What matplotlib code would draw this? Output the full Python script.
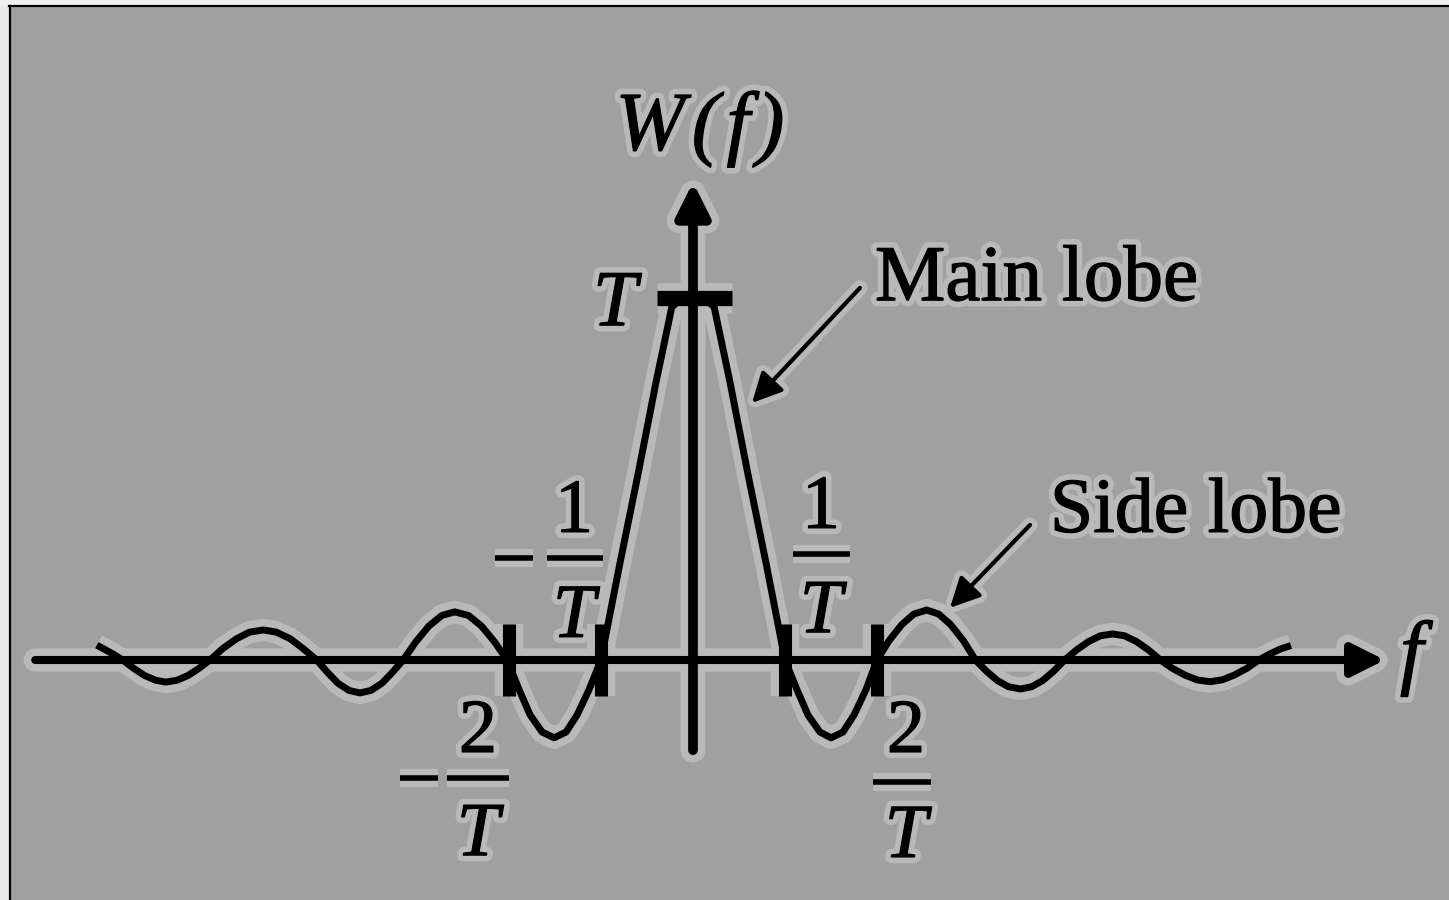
import matplotlib.pyplot as plt
from matplotlib import patheffects as pe
from matplotlib.lines import Line2D
from matplotlib.patches import Rectangle

# window spectrum W(f): frequency in units of 1/T, amplitude in units of T
freq = [
    -6.48, -6.40, -6.30,
    -6.20, -6.08, -5.96, -5.84, -5.73, -5.61, -5.49, -5.37,
    -5.25, -5.11, -4.96, -4.82, -4.67, -4.53, -4.38, -4.24,
    -4.09, -3.97, -3.86, -3.74, -3.62, -3.50, -3.38, -3.27,
    -3.15, -3.01, -2.87, -2.73, -2.59, -2.44, -2.30, -2.16,
    -2.02, -1.89, -1.77, -1.64, -1.51, -1.38, -1.26, -1.13,
    -1.00, -0.80, -0.60, -0.40, -0.23, -0.12, 0.00, 0.12, 0.23, 0.40, 0.60, 0.80,
    1.00, 1.13, 1.25, 1.38, 1.50, 1.63, 1.75, 1.88,
    2.00, 2.13, 2.27, 2.40, 2.54, 2.67, 2.80, 2.94,
    3.07, 3.19, 3.31, 3.43, 3.56, 3.68, 3.80, 3.92,
    4.04, 4.17, 4.30, 4.43, 4.56, 4.69, 4.82, 4.95,
    5.08, 5.21, 5.35, 5.48, 5.62, 5.75, 5.88, 6.02,
    6.15, 6.25, 6.38, 6.50,
]
amp = [
    0.041, 0.030, 0.016,
    0.0, -0.023, -0.043, -0.056, -0.061, -0.056, -0.043, -0.023,
    0.0, 0.032, 0.059, 0.077, 0.083, 0.077, 0.059, 0.032,
    0.0, -0.035, -0.064, -0.084, -0.091, -0.084, -0.064, -0.035,
    0.0, 0.051, 0.094, 0.123, 0.133, 0.123, 0.094, 0.051,
    0.0, -0.082, -0.152, -0.199, -0.215, -0.199, -0.152, -0.082,
    0.0, 0.26, 0.51, 0.77, 0.975, 1.0, 1.0, 1.0, 0.975, 0.77, 0.51, 0.26,
    0.0, -0.082, -0.152, -0.199, -0.215, -0.199, -0.152, -0.082,
    0.0, 0.053, 0.098, 0.127, 0.138, 0.127, 0.098, 0.053,
    0.0, -0.031, -0.057, -0.074, -0.080, -0.074, -0.057, -0.031,
    0.0, 0.028, 0.051, 0.067, 0.072, 0.067, 0.051, 0.028,
    0.0, -0.023, -0.042, -0.055, -0.060, -0.055, -0.042, -0.023,
    0.0, 0.014, 0.030, 0.040,
]

zero_ticks = [-2, -1, 1, 2]
tick_nums = ['2', '1', '1', '2']
peak = 1.0

BG = '#a0a0a0'
HALO = '#b9b9b9'
SERIF = 'Liberation Serif'


def line(ax, x, y, lw, extra=11):
    # light outline underneath, black stroke on top
    ax.plot(x, y, color=HALO, lw=lw + extra, solid_capstyle='butt', zorder=1)
    ax.plot(x, y, color='black', lw=lw, solid_capstyle='butt', zorder=3)


def arrow(ax, tip, start, lw, style, scale, extra=11, z=2):
    # same geometry twice: outlined copy underneath, plain black copy on top
    for color, effects, zz in [(HALO, [pe.Stroke(linewidth=lw + extra, foreground=HALO),
                                       pe.Normal()], 1),
                               ('black', [], z)]:
        a = ax.annotate('', xy=tip, xytext=start, zorder=zz,
                        arrowprops=dict(arrowstyle=style, lw=lw, color=color,
                                        shrinkA=0, shrinkB=0, mutation_scale=scale))
        a.arrow_patch.set_path_effects(effects)


def label(ax, x, y, s, size=55, italic=False, ha='center'):
    ax.text(x, y, s, ha=ha, va='baseline', fontsize=size, family=SERIF,
            style='italic' if italic else 'normal', color='black', zorder=5,
            path_effects=[pe.Stroke(linewidth=9, foreground=HALO),
                          pe.Stroke(linewidth=0.9, foreground='black'),
                          pe.Normal()])


fig = plt.figure(figsize=(14.49, 9), dpi=100, facecolor=BG)
ax = fig.add_axes([0, 0, 1, 1])
ax.set_xlim(-693 / 92, (1449 - 693) / 92)
ax.set_ylim(-240 / 362, 660 / 362)
ax.axis('off')

# page edge and frame
fig.add_artist(Rectangle((0, 0), 9 / 1449, 1, transform=fig.transFigure,
                         color='#e8e8e8', zorder=0))
fig.add_artist(Rectangle((0, 895 / 900), 1, 5 / 900, transform=fig.transFigure,
                         color='#f0f0f0', zorder=0))
fig.add_artist(Line2D([10 / 1449, 10 / 1449], [0, 894 / 900], transform=fig.transFigure,
                      color='black', lw=1.6))
fig.add_artist(Line2D([9 / 1449, 1], [894 / 900, 894 / 900], transform=fig.transFigure,
                      color='black', lw=1.6))

# axes with arrow heads
head = '-|>,head_length=0.5,head_width=0.25'
arrow(ax, (7.52, 0), (-7.15, 0), 5.8, head, 40)
arrow(ax, (0, 1.32), (0, -0.249), 7.0, head, 40)

# the spectrum
line(ax, freq, amp, 5.0)

# zero markers and peak marker
for f0 in zero_ticks:
    line(ax, [f0, f0], [0.1, -0.1], 9.4)
line(ax, [-0.39, 0.42], [peak, peak], 11)

# axis labels
label(ax, 0.076, 1.41, 'W\u200a(\u200af\u200a)', size=60, italic=True)
label(ax, 7.685, -0.052, 'f', size=60, italic=True, ha='left')
label(ax, -0.848, 0.925, 'T', size=57, italic=True)

# fraction labels at the zeros
fracs = [
    # numerator x, num baseline, bar y, den baseline, bar span, minus span
    (-1.293, 0.354, 0.282, 0.064, (-1.587, -0.978), (-2.152, -1.739)),
    (1.391, 0.365, 0.293, 0.077, (1.087, 1.707), None),
    (-2.337, -0.254, -0.326, -0.539, (-2.674, -2.0), (-3.185, -2.772)),
    (2.315, -0.254, -0.337, -0.544, (1.957, 2.587), None),
]
for (x, yn, yb, yd, bar, minus), num in zip(fracs, [tick_nums[1], tick_nums[2],
                                                    tick_nums[0], tick_nums[3]]):
    label(ax, x, yn, num)
    label(ax, x, yd, 'T', italic=True)
    line(ax, list(bar), [yb, yb], 4, extra=9)
    if minus:
        line(ax, list(minus), [yb, yb], 4, extra=9)

# callouts
callout = '-|>,head_length=0.6,head_width=0.3'
for text, tx, ty, size, tip, start in [
        ('Main lobe', 1.978, 0.994, 57, (0.641, 0.710), (1.815, 1.028)),
        ('Side lobe', 3.88, 0.354, 56, (2.793, 0.144), (3.663, 0.373))]:
    label(ax, tx, ty, text, size=size, ha='left')
    arrow(ax, tip, start, 3.0, callout, 30, extra=8, z=4)

fig.savefig('out.png', dpi=100, facecolor=fig.get_facecolor())
